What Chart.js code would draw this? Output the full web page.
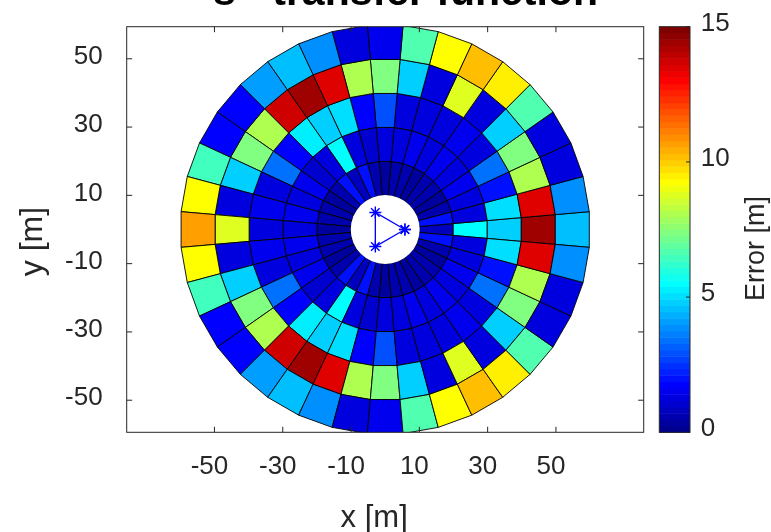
<!DOCTYPE html>
<html>
<head>
<meta charset="utf-8">
<style>
  html, body { margin: 0; padding: 0; background: #fff; }
</style>
</head>
<body>
<canvas id="myChart" width="771" height="532"></canvas>
<script src="https://cdn.jsdelivr.net/npm/chart.js@4.4.1/dist/chart.umd.min.js"></script>
<script>
    // polar grid: ring edges [m] and sector centres [deg]
    const ringEdges = [10, 20, 30, 40, 50, 60];
    const sectorAngles = [0, 10, 20, 30, 40, 50, 60, 70, 80, 90, 100, 110, 120, 130, 140, 150, 160, 170,
                          180, 190, 200, 210, 220, 230, 240, 250, 260, 270, 280, 290, 300, 310, 320, 330, 340, 350];
    const sectorWidth = 10;
    const holeRadius = 10;

    // error [m] per cell, one array per ring, same order as sectorAngles
    const errRing1 = [0.8, 2.0, 0.5, 0.4, 0.5, 0.6, 0.4, 0.6, 0.5, 0.4, 0.5, 2.0, 0.8, 2.0, 0.5, 0.4, 0.5, 0.6,
                      0.4, 0.6, 0.5, 0.4, 0.5, 2.0, 0.8, 2.0, 0.5, 0.4, 0.5, 0.6, 0.4, 0.6, 0.5, 0.4, 0.5, 2.0];
    const errRing2 = [5.6, 1.4, 1.2, 1.5, 1.3, 1.6, 1.2, 1.5, 1.3, 1.2, 1.1, 1.3, 5.6, 1.3, 1.1, 1.5, 1.3, 1.5,
                      1.2, 1.5, 1.3, 1.5, 1.1, 1.3, 5.6, 1.3, 1.1, 1.2, 1.3, 1.5, 1.2, 1.6, 1.3, 1.5, 1.2, 1.4];
    const errRing3 = [4.7, 5.1, 1.9, 3.3, 1.4, 1.5, 1.3, 1.4, 1.3, 3.0, 1.65, 5.1, 4.7, 5.2, 1.8, 3.3, 1.4, 1.55,
                      1.3, 1.55, 1.4, 3.3, 1.8, 5.2, 4.7, 5.1, 1.65, 3.0, 1.3, 1.4, 1.3, 1.5, 1.4, 3.3, 1.9, 5.1];
    const errRing4 = [14.5, 13.5, 8.2, 7.3, 4.9, 1.3, 8.9, 1.2, 4.9, 7.3, 8.0, 13.4, 14.3, 13.6, 8.2, 7.3, 4.9, 1.3,
                      8.9, 1.3, 4.9, 7.3, 8.2, 13.6, 14.3, 13.4, 8.0, 7.3, 4.9, 1.2, 8.9, 1.3, 4.9, 7.3, 8.2, 13.5];
    const errRing5 = [4.5, 3.75, 1.3, 1.4, 6.6, 9.4, 10.2, 9.15, 6.6, 1.55, 1.2, 3.75, 4.6, 4.0, 1.65, 1.65, 6.4, 9.15,
                      10.7, 9.15, 6.4, 1.65, 1.65, 4.0, 4.6, 3.75, 1.2, 1.55, 6.6, 9.15, 10.2, 9.4, 6.6, 1.4, 1.3, 3.75];
    const rings = [errRing1, errRing2, errRing3, errRing4, errRing5];

    // sensor array
    const micX = [5.77, -2.89, -2.89];
    const micY = [0, 5, -5];

    const xTicks = [-50, -30, -10, 10, 30, 50];
    const yTicks = [-50, -30, -10, 10, 30, 50];
    const cbTicks = [0, 5, 10, 15];
    const errMin = 0, errMax = 15;

    // matlab jet(m)
    function jetColors(m) {
        const n = Math.ceil(m / 4);
        const u = [];
        for (let i = 1; i <= n; i++) u.push(i / n);
        for (let i = 1; i < n; i++) u.push(1);
        for (let i = n; i >= 1; i--) u.push(i / n);
        const g0 = Math.ceil(n / 2) - (m % 4 === 1 ? 1 : 0);
        const cols = Array.from({length: m}, () => [0, 0, 0]);
        u.forEach((val, k) => {
            const g = g0 + k + 1, r = g + n, b = g - n;
            if (r >= 1 && r <= m) cols[r - 1][0] = val;
            if (g >= 1 && g <= m) cols[g - 1][1] = val;
            if (b >= 1 && b <= m) cols[b - 1][2] = val;
        });
        return cols.map(c => 'rgb(' + c.map(v => Math.round(v * 255)).join(',') + ')');
    }
    const jet = jetColors(64);
    function errColor(v) {
        let i = Math.floor((v - errMin) / (errMax - errMin) * jet.length);
        return jet[Math.max(0, Math.min(jet.length - 1, i))];
    }

    const axisColor = '#262626';
    Chart.defaults.font.family = "'Liberation Sans', Arial, sans-serif";
    Chart.defaults.color = axisColor;

    const polarCells = {
        id: 'polarCells',
        beforeDatasetsDraw(chart) {
            const {ctx, chartArea: a, scales: {x, y}} = chart;
            ctx.save();
            ctx.beginPath();
            ctx.rect(a.left, a.top, a.width, a.height);
            ctx.clip();
            ctx.lineWidth = 0.9;
            ctx.strokeStyle = '#000';
            ctx.lineJoin = 'round';
            rings.forEach((vals, i) => {
                const r0 = ringEdges[i], r1 = ringEdges[i + 1];
                vals.forEach((v, j) => {
                    const t0 = (sectorAngles[j] - sectorWidth / 2) * Math.PI / 180;
                    const t1 = (sectorAngles[j] + sectorWidth / 2) * Math.PI / 180;
                    const pts = [[r0, t0], [r1, t0], [r1, t1], [r0, t1]].map(([r, t]) =>
                        [x.getPixelForValue(r * Math.cos(t)), y.getPixelForValue(r * Math.sin(t))]);
                    ctx.beginPath();
                    pts.forEach((p, k) => k ? ctx.lineTo(p[0], p[1]) : ctx.moveTo(p[0], p[1]));
                    ctx.closePath();
                    ctx.fillStyle = errColor(v);
                    ctx.fill();
                    ctx.stroke();
                });
            });
            // hole in the middle
            const cx = x.getPixelForValue(0), cy = y.getPixelForValue(0);
            const rx = Math.abs(x.getPixelForValue(holeRadius) - cx);
            const ry = Math.abs(y.getPixelForValue(holeRadius) - cy);
            ctx.beginPath();
            ctx.ellipse(cx, cy, rx + 0.3, ry + 0.3, 0, 0, 2 * Math.PI);
            ctx.fillStyle = '#fff';
            ctx.fill();
            ctx.restore();
        },
        afterDraw(chart) {
            const {ctx, chartArea: a, scales: {x, y, cb}} = chart;
            const tl = 5.5;
            ctx.save();
            // box + inward ticks
            ctx.strokeStyle = axisColor;
            ctx.lineWidth = 1;
            ctx.strokeRect(a.left, a.top, a.width, a.height);
            ctx.beginPath();
            xTicks.forEach(v => {
                const px = x.getPixelForValue(v);
                ctx.moveTo(px, a.bottom); ctx.lineTo(px, a.bottom - tl);
                ctx.moveTo(px, a.top); ctx.lineTo(px, a.top + tl);
            });
            yTicks.forEach(v => {
                const py = y.getPixelForValue(v);
                ctx.moveTo(a.left, py); ctx.lineTo(a.left + tl, py);
                ctx.moveTo(a.right, py); ctx.lineTo(a.right - tl, py);
            });
            ctx.stroke();

            // colorbar
            const bx = cb.left + 15.6, bw = 30.7;
            const step = (errMax - errMin) / jet.length;
            jet.forEach((c, k) => {
                const yb = cb.getPixelForValue(errMin + k * step);
                const yt = cb.getPixelForValue(errMin + (k + 1) * step);
                ctx.fillStyle = c;
                ctx.fillRect(bx, yt, bw, yb - yt + 0.5);
            });
            ctx.strokeRect(bx, cb.top, bw, cb.bottom - cb.top);
            ctx.beginPath();
            cbTicks.forEach(v => {
                const py = cb.getPixelForValue(v);
                ctx.moveTo(bx + bw, py); ctx.lineTo(bx + bw - 4, py);
            });
            ctx.stroke();

            // texts
            ctx.fillStyle = axisColor;
            ctx.textAlign = 'center';
            ctx.textBaseline = 'middle';
            ctx.font = "31px 'Liberation Sans', Arial, sans-serif";
            const xc = (a.left + a.right) / 2, yc = (a.top + a.bottom) / 2;
            ctx.fillText('x [m]', xc - 11, a.bottom + 86);
            ctx.save();
            ctx.translate(33, yc + 12);
            ctx.rotate(-Math.PI / 2);
            ctx.font = "32px 'Liberation Sans', Arial, sans-serif";
            ctx.fillText('y [m]', 0, 0);
            ctx.restore();
            ctx.font = "27px 'Liberation Sans', Arial, sans-serif";
            ctx.save();
            ctx.translate(cb.left + 113, yc + 19);
            ctx.rotate(-Math.PI / 2);
            ctx.fillText('Error [m]', 0, 0);
            ctx.restore();
            // title, mostly above the page edge
            ctx.fillStyle = '#000';
            ctx.font = "bold 41px 'Liberation Sans', Arial, sans-serif";
            ctx.textAlign = 'left';
            ctx.textBaseline = 'alphabetic';
            ctx.fillText('s - transfer function', 213, 5);
            ctx.restore();
        }
    };

    const tickFont = {size: 26};
    const arrayPts = micX.map((v, i) => ({x: v, y: micY[i]}));
    arrayPts.push(arrayPts[0]);

    // keep the plot box where it is: no extra room for edge labels
    function noEdgePad(axis) {
        axis.paddingTop = 0; axis.paddingBottom = 0;
        axis.paddingLeft = 0; axis.paddingRight = 0;
    }

    new Chart('myChart', {
        type: 'scatter',
        data: {
            datasets: [{
                data: arrayPts,
                showLine: true,
                borderColor: '#0000ff',
                backgroundColor: '#0000ff',
                borderWidth: 1.3,
                pointStyle: 'star',
                pointRadius: 6,
                pointBorderWidth: 1.4
            }]
        },
        options: {
            responsive: false,
            animation: false,
            devicePixelRatio: 1,
            layout: {padding: {top: 26.7, left: 0, right: 0, bottom: 0}},
            plugins: {legend: {display: false}, tooltip: {enabled: false}},
            scales: {
                x: {
                    min: -75.7, max: 75.7,
                    grid: {display: false, drawTicks: false},
                    border: {display: false},
                    ticks: {font: tickFont, padding: 19, labelOffset: -5, maxRotation: 0},
                    afterBuildTicks: axis => { axis.ticks = xTicks.map(v => ({value: v})); },
                    afterFit: axis => { axis.height = 99.7; noEdgePad(axis); }
                },
                y: {
                    min: -59.4, max: 59.4,
                    grid: {display: false, drawTicks: false},
                    border: {display: false},
                    ticks: {font: tickFont, padding: 24, labelOffset: -2},
                    afterBuildTicks: axis => { axis.ticks = yTicks.map(v => ({value: v})); },
                    afterFit: axis => { axis.width = 126.7; noEdgePad(axis); }
                },
                cb: {
                    type: 'linear',
                    position: 'right',
                    min: errMin, max: errMax,
                    grid: {display: false, drawTicks: false},
                    border: {display: false},
                    ticks: {font: tickFont, padding: 57, labelOffset: -3},
                    afterBuildTicks: axis => { axis.ticks = cbTicks.map(v => ({value: v})); },
                    afterFit: axis => { axis.width = 127.3; noEdgePad(axis); }
                }
            }
        },
        plugins: [polarCells]
    });
</script>
</body>
</html>
